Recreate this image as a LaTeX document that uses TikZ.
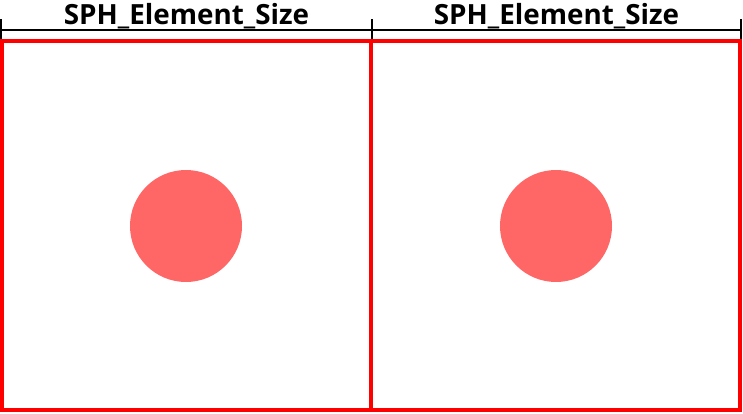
\documentclass[tikz,border=0pt]{standalone}
\usepackage{fontspec}
\setmainfont{Open Sans}
\usetikzlibrary{calc}
\definecolor{cellred}{RGB}{255, 0, 0}
\definecolor{particlered}{RGB}{255, 102, 102}

\begin{document}
\begin{tikzpicture}[
    x = 1pt, y = 1pt,
    cell/.style = {draw = cellred, line width = 4pt},
    particle/.style = {fill = particlered, draw = none},
    dimline/.style = {line width = 2pt, black},
    dimlabel/.style = {font = \bfseries\fontsize{27.8}{32}\selectfont, inner sep = 0pt},
]
\useasboundingbox (0,0) rectangle (743,413);

\draw[cell] (2,3) rectangle (371,371.5);
\draw[cell] (371,3) rectangle (740,371.5);
\fill[particle] (186,187) circle (56);
\fill[particle] (556,187) circle (56);

\coordinate (d0) at (1,383);
\coordinate (d1) at (372,383);
\coordinate (d2) at (741,383);
\draw[dimline] (d0) -- (d2);
\draw[dimline] ($(d0)+(0,-9)$) -- ($(d0)+(0,11)$);
\draw[dimline] ($(d1)+(0,-9)$) -- ($(d1)+(0,11)$);
\draw[dimline] ($(d2)+(0,-9)$) -- ($(d2)+(0,11)$);
\node[dimlabel] at ($(d0)!0.5!(d1)+(0,14)$) {SPH\_Element\_Size};
\node[dimlabel] at ($(d1)!0.5!(d2)+(0,14)$) {SPH\_Element\_Size};
\end{tikzpicture}
\end{document}
